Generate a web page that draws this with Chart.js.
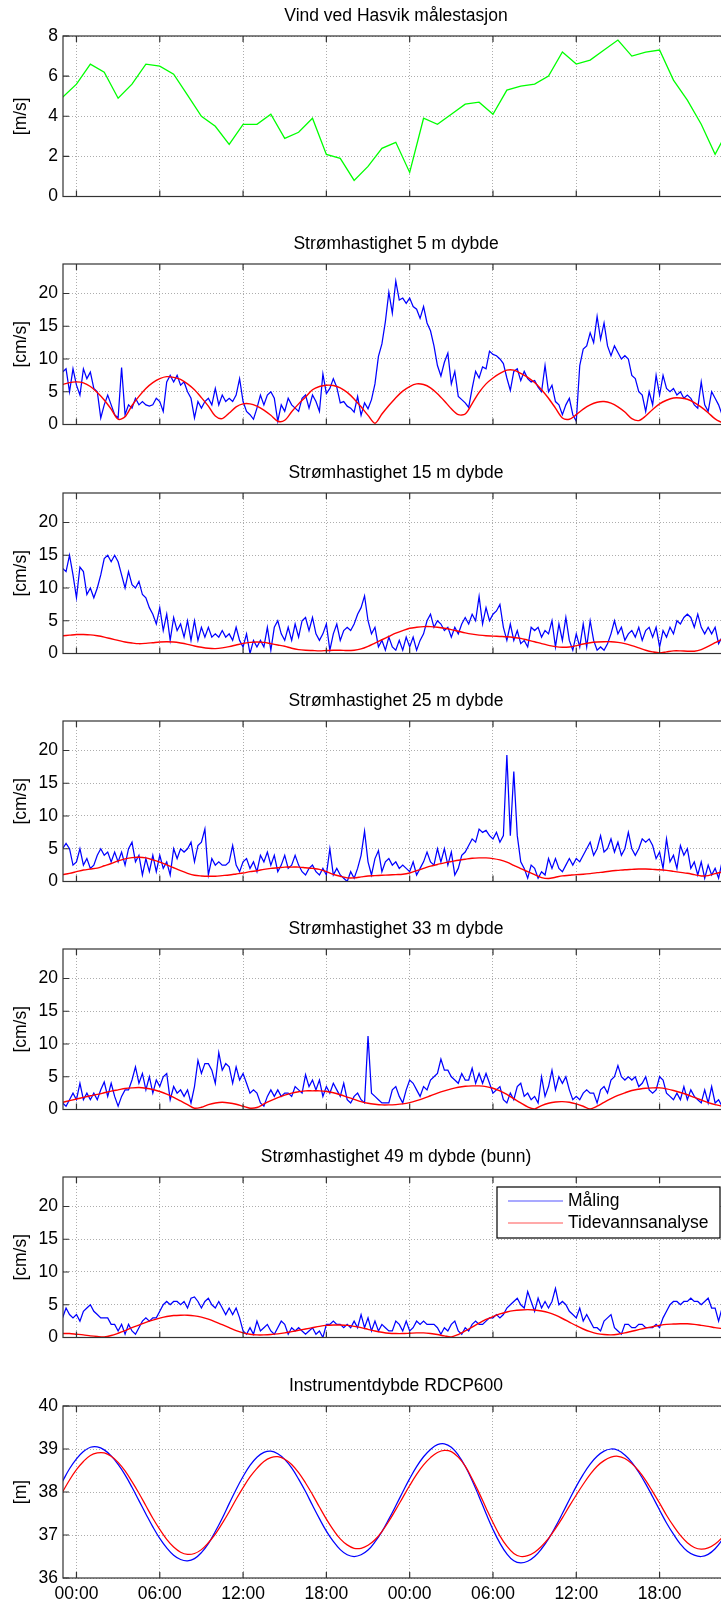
<!DOCTYPE html>
<html lang="no">
<head>
<meta charset="utf-8">
<title>Strømmåling Hasvik</title>
<script src="https://cdn.jsdelivr.net/npm/chart.js@4.4.1/dist/chart.umd.min.js"></script>
<style>
  html, body { margin: 0; padding: 0; background: #fff; overflow: hidden; }
  #figure { position: relative; width: 740px; height: 1602px; }
  #figure canvas { position: absolute; left: 0; }
</style>
</head>
<body>
<div id="figure"></div>
<script>
// Tidsakse i timer fra første midnatt (ca. 23:00 til 23:00 to døgn senere)
const xTickHours = [0, 6, 12, 18, 24, 30, 36, 42];
const xTickLabels = ['00:00', '06:00', '12:00', '18:00', '00:00', '06:00', '12:00', '18:00'];

// Vind, timesverdier fra kl. -1
const windSpeed = [
  4.95, 5.6, 6.6, 6.2, 4.9, 5.6, 6.6, 6.5, 6.1, 5.05, 4.0, 3.5, 2.6,
  3.6, 3.6, 4.1, 2.9, 3.2, 3.9, 2.1, 1.9, 0.8, 1.5, 2.4, 2.7, 1.2,
  3.9, 3.6, 4.1, 4.6, 4.7, 4.1, 5.3, 5.5, 5.6, 6.0, 7.2, 6.6, 6.8,
  7.3, 7.8, 7.0, 7.2, 7.3, 5.8, 4.8, 3.6, 2.1, 3.4
];

// Målt strømhastighet, hvert kvarter fra kl. -1 (én rad = 3 timer)
const measured5 = [
  8, 8.5, 5, 8.5, 6, 4.5, 8.5, 7, 8, 5.5, 5, 1,
  3, 4.5, 3, 1.5, 1, 8.7, 1.5, 3, 2.5, 4, 3, 3.5,
  3, 2.8, 3, 4, 3.5, 2, 6.5, 7.5, 6.5, 7.5, 6, 6.5,
  5, 4, 1, 3.5, 2.5, 3.5, 4, 3, 5.5, 3, 4.5, 3.5,
  4, 3.5, 4.5, 7, 3.5, 2, 1.5, 0.8, 2.5, 4.5, 3, 4.5,
  5, 4, 0.5, 3, 2, 4, 3, 2.5, 2, 4, 4.5, 2.5,
  4.5, 3.5, 2, 7.7, 4.7, 5.5, 7, 5.7, 3.3, 3.5, 2.8, 2.5,
  1.9, 4.3, 1.4, 3.3, 2.4, 3.8, 6.2, 10.4, 12.3, 15.7, 20.2, 17,
  21.9, 19, 19.3, 18.5, 19.3, 18, 17.6, 16.2, 18, 15.5, 14.3, 12,
  9, 7.4, 9.5, 10.9, 6.2, 8.1, 4.3, 3.8, 3.3, 2.6, 5.5, 8.1,
  7.1, 8.8, 8.5, 11.2, 10.7, 10.5, 10, 9.3, 7.1, 5.2, 8.1, 8.5,
  6.7, 8.1, 7, 6.5, 6.7, 5.7, 5, 9, 5, 6, 3.5, 3,
  1.5, 3, 4, 1.5, 0.5, 9, 11.5, 12, 14, 12.5, 16.5, 13,
  15.5, 12, 10.5, 12, 11, 10, 10.5, 10, 7.5, 7, 5, 4.5,
  2, 5, 3, 7.5, 4.5, 7.5, 5.5, 5, 5.5, 4.5, 5, 4,
  4.5, 4, 3, 2.5, 6.5, 3, 2, 5, 4, 3, 1.5, 1
];
const measured15 = [
  13, 12.5, 15, 12, 8.5, 13.2, 12.5, 9, 10, 8.5, 10, 12,
  14.5, 15, 14, 15, 14, 12, 10, 12.5, 10.5, 10, 11, 9,
  8.5, 7, 6, 4.5, 7, 3.5, 6, 2, 5.5, 3.5, 4.5, 2.5,
  5, 2, 5, 2, 4, 2.5, 4, 2.5, 3, 2.5, 3.5, 2.5,
  3, 2, 4, 2, 1, 3, 0, 2, 1, 2, 1, 4,
  0.5, 4, 5, 3, 2, 4, 2, 4.5, 2.5, 5, 5.5, 3.5,
  5.5, 3, 2, 3, 4.5, 0.5, 3, 4.5, 2, 3.5, 4, 3.5,
  4.5, 6, 7, 8.8, 5, 3, 4, 1, 2, 0.5, 2.5, 1,
  0.5, 2, 0.5, 2.5, 1, 2.5, 0.5, 2, 3, 5, 6, 4,
  5, 4.5, 3.5, 4, 2.5, 4, 3, 4.5, 5.5, 4.5, 6, 5,
  8.7, 4.5, 7, 5, 6, 6.5, 7.5, 4, 2, 4.5, 2, 3.5,
  1.5, 2, 1, 4, 3.5, 4, 2.5, 3.5, 3, 5, 1, 4.5,
  2, 5.5, 2, 0.5, 3, 1, 4.5, 1, 5, 2, 0.5, 1,
  0.5, 1.5, 3, 5, 3, 4, 2, 3, 3.5, 2.5, 4, 2,
  3.5, 4, 2.5, 4, 1, 3.5, 2.5, 4, 3, 5, 4.5, 5.5,
  6, 5.5, 4, 6, 4, 3, 4, 3, 4, 1.5, 2.5, 1
];
const measured25 = [
  5, 5.8, 5, 2.5, 3, 5, 2.5, 3.5, 2, 2.5, 4, 5,
  4, 4.5, 3, 4.5, 3, 4.5, 2.5, 5, 6, 3, 4, 1,
  3.5, 1.5, 4, 1.5, 4, 2, 3, 1, 5, 3.5, 5, 4.5,
  5, 6, 3, 5.5, 6, 8, 1, 3.5, 2.5, 3, 2.5, 2.5,
  3, 5.5, 2.5, 1.5, 3, 3.5, 2, 3, 1.5, 4, 3, 4.5,
  2.5, 4, 1.5, 2.5, 4, 2, 2.5, 4, 2.5, 1.5, 1, 2,
  2.5, 1.5, 1, 2, 1, 5, 1, 2, 1, 0.5, 0, 1.5,
  0.5, 2, 4, 7.7, 3, 1, 3.5, 4.7, 1.5, 3, 3.5, 2.5,
  3, 2, 2.5, 2, 1.5, 3, 1, 2, 3, 4.5, 3, 2.5,
  5, 3, 5, 2.5, 4.5, 1, 2, 4, 4.5, 5.5, 6.5, 6,
  8, 7.5, 7.8, 7, 6.5, 7.5, 6, 7, 19.3, 7, 16.8, 7,
  3, 2, 0.5, 2.5, 2, 0.5, 1.5, 1, 3.5, 2, 3.5, 2,
  1.5, 2.5, 3.5, 2.5, 3.5, 3, 4, 5, 6, 4, 5, 7,
  4.5, 5, 6.5, 4.5, 6, 4, 5, 7.5, 5, 4, 5, 6.5,
  6, 6.5, 5.5, 3.5, 4.5, 2, 6.5, 3, 4, 2, 5.5, 4,
  5, 2, 3, 1, 3, 0.5, 2.5, 1, 2, 0.5, 3, 2
];
const measured33 = [
  1, 0.5, 1.5, 2.5, 1.5, 4, 1.5, 2.5, 1.5, 2.5, 1.5, 3,
  4.2, 2, 4, 2, 0.5, 2, 3, 3, 4.5, 6.5, 4, 5.5,
  3, 5, 2.5, 4.5, 3.5, 5, 5.5, 1.5, 3.5, 2.5, 3, 2,
  3, 1, 3.5, 7.5, 5.5, 7, 7, 6, 4, 8.7, 6, 7,
  6.5, 4, 6.5, 4.5, 5.5, 4, 2.5, 3, 2.5, 1, 0.5, 2,
  3, 2, 3, 2, 2.5, 2.5, 2, 3.5, 3, 2.5, 5.3, 3.5,
  4.5, 3, 4.5, 2, 3.5, 2.5, 4, 3, 2, 4, 1.5, 1,
  2, 2.5, 1.5, 1, 11.2, 2.5, 2, 1.5, 1, 1, 1, 3,
  3.5, 2, 1, 3, 4.5, 4, 3, 2, 3.5, 3, 4.5, 5,
  5.5, 7.7, 6, 6, 5, 4.5, 4, 5.5, 4.5, 4.5, 6.3, 4,
  5.5, 4, 5.5, 4, 2.5, 3, 3.5, 1.5, 1, 2.5, 1.5, 3.5,
  4, 2, 2.5, 1.5, 2, 1, 5, 2, 3.5, 6, 3, 5,
  4, 5, 3, 1.5, 2, 1.5, 2.5, 3, 2.5, 2.5, 1, 3,
  3.5, 2.5, 4.5, 5, 6.7, 5, 4.5, 5, 4.5, 5, 3.5, 4,
  5, 3, 2.5, 3, 5, 4.5, 2.5, 2, 1.5, 2.5, 1.5, 3.5,
  1.5, 3, 2, 1.5, 1, 3, 1, 3.5, 1, 1.5, 0.5, 2.5
];
const measured49 = [
  3, 4.5, 3.5, 3, 3.5, 2.5, 4, 4.5, 5, 4, 3.5, 3,
  3, 3, 2, 2, 1, 2, 0.5, 2, 1, 0.5, 1.5, 2.5,
  3, 2.5, 3, 3, 4, 5, 5.5, 5, 5.5, 5.5, 5, 5.5,
  4.5, 6, 6.2, 5.5, 4.5, 5.5, 6, 5, 4.5, 5.5, 4.5, 3.5,
  4.5, 3.5, 4.5, 3, 1, 0.5, 1.5, 0.5, 2.5, 1, 1.5, 2,
  1, 0.5, 1.5, 2.5, 2, 0.5, 1.5, 1, 1.5, 1, 0.5, 1,
  1.5, 0.5, 1, 0, 2, 2, 2.5, 2, 2, 1.5, 2, 1.5,
  2.5, 1.5, 3.5, 1.5, 3, 1, 2.5, 1, 2, 1.5, 1, 1,
  2.5, 2, 1, 2.5, 1, 1.5, 2.5, 2, 2.5, 2, 2, 2,
  1.5, 0.5, 1.5, 1, 2, 2.5, 1, 0.5, 1.5, 1, 2, 2.5,
  2, 2, 2.5, 3, 3, 3.5, 3, 3.5, 4.5, 5, 5.5, 6,
  5, 4.5, 7, 5.5, 4, 6, 4.5, 5.5, 4.5, 5.5, 7.5, 5,
  5.5, 5, 4, 3.5, 3, 4.5, 2.5, 3.5, 2.5, 1.5, 1.5, 1,
  2.5, 3, 3.5, 1.5, 1, 0.5, 2, 2, 1.5, 1.5, 2, 2,
  1.5, 1.5, 1.5, 2, 1.5, 3, 4, 5, 5.5, 5.5, 5, 5.5,
  5.5, 6, 5.5, 5.5, 5, 5.5, 6, 4.5, 4.5, 2.5, 4.5, 5
];

// Tidevannsanalyse, hver halvtime fra kl. -1 (én rad = 6 timer)
const tide5 = [
  6.1, 6.4, 6.5, 6.35, 5.8, 4.9, 3.75, 2.35, 0.8, 1.2, 2.9, 4.3,
  5.5, 6.4, 7.0, 7.3, 7.2, 6.9, 6.2, 5.3, 4.1, 2.8, 1.3, 0.9,
  1.75, 2.7, 3.15, 3.15, 2.8, 2.2, 1.4, 0.5, 0.65, 1.95, 3.15, 4.2,
  5.3, 5.8, 6.0, 5.95, 5.6, 4.9, 3.9, 2.7, 1.4, 0.2, 1.6, 2.9,
  4.1, 5.1, 5.8, 6.2, 6.1, 5.6, 4.7, 3.6, 2.4, 1.5, 1.6, 3.2,
  4.9, 6.2, 7.1, 7.8, 8.3, 8.3, 7.8, 7.2, 6.4, 5.3, 4.0, 2.5,
  1.0, 0.8, 1.5, 2.35, 3.0, 3.4, 3.5, 3.25, 2.7, 1.9, 0.9, 0.6,
  1.3, 2.3, 3.15, 3.7, 4.05, 4.05, 3.85, 3.35, 2.65, 1.8, 0.85, 0.35,
  0.9
];
const tide15 = [
  2.7, 2.8, 2.9, 2.9, 2.85, 2.7, 2.5, 2.25, 2.0, 1.75, 1.6, 1.5,
  1.55, 1.65, 1.75, 1.8, 1.75, 1.6, 1.4, 1.15, 0.95, 0.8, 0.75, 0.85,
  1.05, 1.3, 1.55, 1.7, 1.75, 1.7, 1.5, 1.3, 1.1, 0.8, 0.6, 0.5,
  0.45, 0.4, 0.45, 0.5, 0.5, 0.45, 0.5, 0.7, 1.1, 1.6, 2.1, 2.6,
  3.1, 3.5, 3.85, 4.0, 4.1, 4.1, 4.0, 3.85, 3.65, 3.4, 3.15, 2.95,
  2.8, 2.7, 2.65, 2.6, 2.55, 2.45, 2.3, 2.05, 1.8, 1.5, 1.25, 1.05,
  0.95, 1.0, 1.2, 1.45, 1.65, 1.75, 1.8, 1.8, 1.7, 1.5, 1.2, 0.85,
  0.5, 0.25, 0.1, 0.25, 0.4, 0.4, 0.35, 0.35, 0.6, 1.1, 1.65, 2.2,
  2.7
];
const tide25 = [
  1.05, 1.25, 1.5, 1.75, 1.9, 2.05, 2.4, 2.75, 3.15, 3.45, 3.65, 3.7,
  3.6, 3.3, 2.95, 2.55, 2.1, 1.65, 1.25, 0.95, 0.85, 0.8, 0.8, 0.9,
  1.0, 1.15, 1.3, 1.5, 1.65, 1.85, 2.0, 2.1, 2.2, 2.2, 2.2, 2.1,
  2.0, 1.85, 1.5, 1.1, 0.8, 0.55, 0.55, 0.7, 0.85, 0.9, 0.95, 1.0,
  1.05, 1.1, 1.3, 1.65, 2.0, 2.35, 2.6, 2.85, 3.05, 3.25, 3.4, 3.55,
  3.6, 3.6, 3.5, 3.3, 2.95, 2.45, 1.95, 1.5, 1.05, 0.6, 0.45, 0.65,
  0.85, 0.95, 1.05, 1.1, 1.2, 1.35, 1.45, 1.6, 1.7, 1.8, 1.85, 1.9,
  1.9, 1.85, 1.8, 1.7, 1.55, 1.4, 1.25, 1.05, 0.85, 0.9, 1.2, 1.45,
  1.7
];
const tide33 = [
  1.1, 1.35, 1.6, 1.85, 2.1, 2.3, 2.55, 2.8, 3.0, 3.2, 3.3, 3.35,
  3.25, 3.05, 2.75, 2.35, 1.85, 1.3, 0.75, 0.2, 0.35, 0.75, 1.0, 1.1,
  1.0, 0.8, 0.5, 0.2, 0.3, 0.85, 1.35, 1.8, 2.2, 2.5, 2.7, 2.85,
  2.85, 2.85, 2.75, 2.55, 2.25, 1.9, 1.55, 1.2, 0.95, 0.8, 0.7, 0.7,
  0.75, 0.85, 1.05, 1.35, 1.7, 2.1, 2.5, 2.85, 3.15, 3.4, 3.55, 3.6,
  3.6, 3.5, 3.25, 2.85, 2.3, 1.65, 1.0, 0.4, 0.1, 0.6, 0.95, 1.15,
  1.2, 1.1, 0.85, 0.5, 0.1, 0.5, 1.1, 1.65, 2.15, 2.55, 2.9, 3.1,
  3.25, 3.3, 3.3, 3.15, 2.9, 2.6, 2.25, 1.85, 1.45, 1.05, 0.75, 0.5,
  0.45
];
const tide49 = [
  0.6, 0.6, 0.5, 0.4, 0.25, 0.15, 0.1, 0.3, 0.65, 1.05, 1.5, 1.9,
  2.3, 2.65, 2.95, 3.2, 3.35, 3.4, 3.4, 3.3, 3.1, 2.8, 2.4, 1.95,
  1.5, 1.05, 0.7, 0.5, 0.4, 0.4, 0.45, 0.55, 0.7, 0.9, 1.1, 1.3,
  1.5, 1.7, 1.85, 1.9, 1.9, 1.85, 1.7, 1.5, 1.25, 1.0, 0.8, 0.65,
  0.6, 0.6, 0.65, 0.7, 0.7, 0.6, 0.45, 0.25, 0.1, 0.45, 1.0, 1.6,
  2.2, 2.75, 3.2, 3.6, 3.9, 4.1, 4.2, 4.25, 4.2, 4.05, 3.8, 3.4,
  2.9, 2.35, 1.8, 1.3, 0.9, 0.6, 0.45, 0.4, 0.5, 0.7, 0.95, 1.2,
  1.45, 1.65, 1.85, 2.0, 2.05, 2.1, 2.1, 2.0, 1.85, 1.7, 1.5, 1.35,
  1.15
];

// Instrumentdybde, hver halvtime fra kl. -1
const depthMeasured = [
  38.25, 38.54, 38.77, 38.94, 39.04, 39.05, 38.98, 38.84, 38.64, 38.40, 38.11, 37.80,
  37.49, 37.19, 36.92, 36.70, 36.53, 36.43, 36.40, 36.45, 36.59, 36.80, 37.08, 37.39,
  37.73, 38.06, 38.36, 38.62, 38.81, 38.92, 38.95, 38.89, 38.76, 38.56, 38.30, 38.01,
  37.69, 37.38, 37.09, 36.85, 36.66, 36.54, 36.50, 36.54, 36.65, 36.84, 37.08, 37.37,
  37.68, 38.00, 38.31, 38.59, 38.82, 38.99, 39.10, 39.12, 39.04, 38.86, 38.60, 38.27,
  37.89, 37.50, 37.13, 36.81, 36.56, 36.40, 36.35, 36.39, 36.50, 36.68, 36.91, 37.19,
  37.50, 37.82, 38.13, 38.41, 38.65, 38.83, 38.95, 39.00, 38.97, 38.86, 38.69, 38.46,
  38.19, 37.89, 37.58, 37.28, 37.02, 36.79, 36.62, 36.53, 36.50, 36.55, 36.68, 36.88,
  37.13
];
const depthTide = [
  38.00, 38.28, 38.52, 38.71, 38.85, 38.91, 38.91, 38.83, 38.69, 38.49, 38.24, 37.97,
  37.68, 37.39, 37.13, 36.90, 36.72, 36.60, 36.55, 36.57, 36.66, 36.82, 37.02, 37.27,
  37.54, 37.83, 38.10, 38.35, 38.55, 38.71, 38.80, 38.82, 38.76, 38.64, 38.45, 38.21,
  37.94, 37.65, 37.37, 37.12, 36.91, 36.77, 36.69, 36.69, 36.76, 36.89, 37.08, 37.32,
  37.59, 37.87, 38.15, 38.41, 38.63, 38.80, 38.92, 38.97, 38.94, 38.81, 38.60, 38.31,
  37.98, 37.63, 37.29, 36.98, 36.74, 36.57, 36.50, 36.52, 36.60, 36.74, 36.92, 37.15,
  37.40, 37.67, 37.93, 38.18, 38.41, 38.60, 38.73, 38.81, 38.83, 38.78, 38.66, 38.49,
  38.27, 38.01, 37.74, 37.46, 37.21, 36.99, 36.82, 36.71, 36.67, 36.70, 36.79, 36.94,
  37.14
];

const FONT = "'Liberation Sans', Arial, Helvetica, sans-serif";
Chart.defaults.font.family = FONT;
Chart.defaults.font.size = 17.5;
Chart.defaults.color = '#000';

const TITLE_H = 36;   // tittelboks over hvert plott
const PLOT_H = 172;
const X_MIN = -0.97, X_MAX = 47;

// verdier med fast tidssteg -> {x, y}
function series(start, step, values) {
  return values.map((v, i) => ({ x: start + i * step, y: v }));
}

const speedTicks = [0, 5, 10, 15, 20];
const panels = [
  { title: 'Vind ved Hasvik målestasjon', unit: '[m/s]', top: 36, min: 0, max: 8, ticks: [0, 2, 4, 6, 8],
    lines: [{ label: 'Vind', data: series(-1, 1, windSpeed), color: '#00ff00', width: 1.3 }] },
  { title: 'Strømhastighet 5 m dybde', unit: '[cm/s]', top: 264, min: 0, max: 24.5, ticks: speedTicks,
    lines: [{ label: 'Måling', data: series(-1, 0.25, measured5), color: '#0000ff', width: 1.25 },
            { label: 'Tidevannsanalyse', data: series(-1, 0.5, tide5), color: '#ff0000', width: 1.4, tension: 0.3 }] },
  { title: 'Strømhastighet 15 m dybde', unit: '[cm/s]', top: 493, min: 0, max: 24.5, ticks: speedTicks,
    lines: [{ label: 'Måling', data: series(-1, 0.25, measured15), color: '#0000ff', width: 1.25 },
            { label: 'Tidevannsanalyse', data: series(-1, 0.5, tide15), color: '#ff0000', width: 1.4, tension: 0.3 }] },
  { title: 'Strømhastighet 25 m dybde', unit: '[cm/s]', top: 721, min: 0, max: 24.5, ticks: speedTicks,
    lines: [{ label: 'Måling', data: series(-1, 0.25, measured25), color: '#0000ff', width: 1.25 },
            { label: 'Tidevannsanalyse', data: series(-1, 0.5, tide25), color: '#ff0000', width: 1.4, tension: 0.3 }] },
  { title: 'Strømhastighet 33 m dybde', unit: '[cm/s]', top: 949, min: 0, max: 24.5, ticks: speedTicks,
    lines: [{ label: 'Måling', data: series(-1, 0.25, measured33), color: '#0000ff', width: 1.25 },
            { label: 'Tidevannsanalyse', data: series(-1, 0.5, tide33), color: '#ff0000', width: 1.4, tension: 0.3 }] },
  { title: 'Strømhastighet 49 m dybde (bunn)', unit: '[cm/s]', top: 1177, min: 0, max: 24.5, ticks: speedTicks, legend: true,
    lines: [{ label: 'Måling', data: series(-1, 0.25, measured49), color: '#0000ff', width: 1.25 },
            { label: 'Tidevannsanalyse', data: series(-1, 0.5, tide49), color: '#ff0000', width: 1.4, tension: 0.3 }] },
  { title: 'Instrumentdybde RDCP600', unit: '[m]', top: 1406, min: 36, max: 40, ticks: [36, 37, 38, 39, 40],
    lines: [{ label: 'Måling', data: series(-1, 0.5, depthMeasured), color: '#0000ff', width: 1.25, tension: 0.4 },
            { label: 'Tidevannsanalyse', data: series(-1, 0.5, depthTide), color: '#ff0000', width: 1.25, tension: 0.4 }] }
];

// ramme rundt aksene og korte tickmerker innover (Matlab-stil)
const axesFrame = {
  id: 'axesFrame',
  afterDatasetsDraw(chart) {
    const { ctx, chartArea: a, scales: { x, y } } = chart;
    ctx.save();
    ctx.strokeStyle = '#333';
    ctx.lineWidth = 1.2;
    ctx.strokeRect(a.left, a.top, a.right - a.left, a.bottom - a.top);
    ctx.beginPath();
    x.ticks.forEach(t => {
      const px = x.getPixelForValue(t.value);
      ctx.moveTo(px, a.bottom); ctx.lineTo(px, a.bottom - 6);
      ctx.moveTo(px, a.top); ctx.lineTo(px, a.top + 6);
    });
    y.ticks.forEach(t => {
      const py = y.getPixelForValue(t.value);
      ctx.moveTo(a.left, py); ctx.lineTo(a.left + 6, py);
      ctx.moveTo(a.right, py); ctx.lineTo(a.right - 6, py);
    });
    ctx.stroke();
    ctx.restore();
  }
};

// tegnforklaring i boks oppe til høyre
const boxLegend = {
  id: 'boxLegend',
  afterDatasetsDraw(chart) {
    const { ctx, chartArea: a } = chart;
    const w = 223, h = 51;
    const left = a.right - 9 - w, top = a.top + 10;
    ctx.save();
    ctx.fillStyle = '#fff';
    ctx.fillRect(left, top, w, h);
    ctx.strokeStyle = '#000';
    ctx.lineWidth = 1.2;
    ctx.strokeRect(left, top, w, h);
    ctx.font = '17.5px ' + FONT;
    ctx.textBaseline = 'middle';
    chart.data.datasets.forEach((ds, i) => {
      const yy = top + 14 + i * 22;
      ctx.strokeStyle = ds.legendColor;
      ctx.lineWidth = 1.5;
      ctx.beginPath();
      ctx.moveTo(left + 11, yy);
      ctx.lineTo(left + 66, yy);
      ctx.stroke();
      ctx.fillStyle = '#000';
      ctx.fillText(ds.label, left + 71, yy);
    });
    ctx.restore();
  }
};

const figure = document.getElementById('figure');

panels.forEach((p, idx) => {
  const isLast = idx === panels.length - 1;
  const height = TITLE_H + PLOT_H + (isLast ? 24 : 4);
  const canvas = document.createElement('canvas');
  canvas.width = 740;
  canvas.height = height;
  canvas.style.top = (p.top - TITLE_H) + 'px';
  canvas.style.width = '740px';
  canvas.style.height = height + 'px';
  figure.appendChild(canvas);

  const datasets = p.lines.map((l, i) => ({
    label: l.label,
    data: l.data,
    borderColor: l.color,
    legendColor: l.color === '#0000ff' ? 'rgba(0,0,255,0.45)' : 'rgba(255,0,0,0.45)',
    borderWidth: l.width,
    pointRadius: 0,
    tension: l.tension || 0,
    fill: false,
    order: p.lines.length - i   // rød kurve over blå
  }));

  new Chart(canvas, {
    type: 'line',
    data: { datasets },
    options: {
      responsive: false,
      animation: false,
      devicePixelRatio: 1,
      layout: { padding: { left: 0, right: 11, top: 0, bottom: 0 } },
      plugins: {
        legend: { display: false },
        tooltip: { enabled: false },
        title: {
          display: true,
          text: p.title,
          fullSize: false,
          color: '#000',
          font: { size: 17.5, weight: 'normal' },
          padding: { top: 6, bottom: 9 }
        }
      },
      scales: {
        x: {
          type: 'linear',
          min: X_MIN,
          max: X_MAX,
          afterBuildTicks: s => { s.ticks = xTickHours.map(v => ({ value: v })); },
          afterFit: s => { s.height = isLast ? 24 : 4; },
          ticks: {
            display: isLast,
            autoSkip: false,
            maxRotation: 0,
            padding: 6,
            callback: (v, i) => xTickLabels[i]
          },
          grid: { color: 'rgba(0,0,0,0.32)', drawTicks: false },
          border: { display: false, dash: [1, 2] }
        },
        y: {
          min: p.min,
          max: p.max,
          afterBuildTicks: s => { s.ticks = p.ticks.map(v => ({ value: v })); },
          afterFit: s => { s.width = 63; },
          ticks: { padding: 5 },
          title: { display: true, text: p.unit, padding: { top: 10.5, bottom: 0 } },
          grid: { color: 'rgba(0,0,0,0.32)', drawTicks: false },
          border: { display: false, dash: [1, 2] }
        }
      }
    },
    plugins: p.legend ? [axesFrame, boxLegend] : [axesFrame]
  });
});
</script>
</body>
</html>
